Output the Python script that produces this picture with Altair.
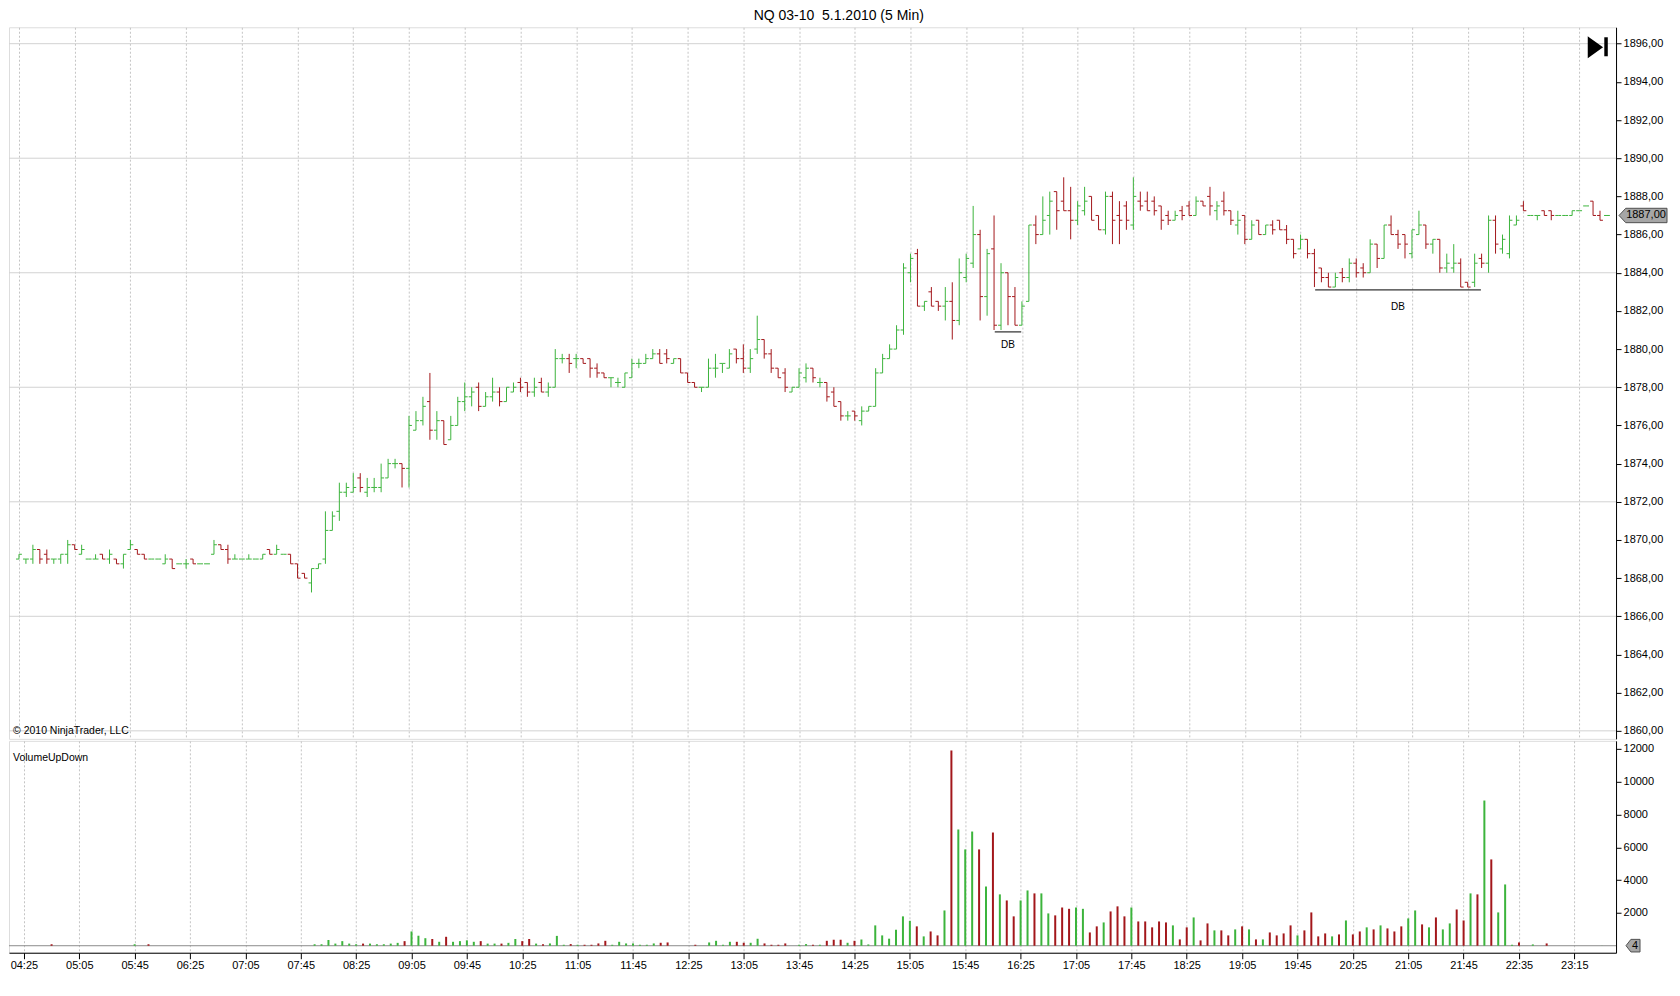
import json
import numpy as np
import pandas as pd
import altair as alt

# ---------------- data ----------------
time_labels = ["04:25", "05:05", "05:45", "06:25", "07:05", "07:45", "08:25", "09:05",
               "09:45", "10:25", "11:05", "11:45", "12:25", "13:05", "13:45", "14:25",
               "15:05", "15:45", "16:25", "17:05", "17:45", "18:25", "19:05", "19:45",
               "20:25", "21:05", "21:45", "22:35", "23:15"]

opens = [
    1869.00, 1869.00, 1869.00, 1869.50, 1869.25, 1869.00, 1869.00, 1869.25, 1869.75, 1869.25,
    1869.00, 1869.00, 1869.25, 1869.00, 1869.00, 1868.75, 1869.50, 1869.50, 1869.25, 1869.00,
    1869.00, 1868.75, 1869.00, 1868.75, 1868.75, 1869.00, 1868.75, 1868.75, 1869.25, 1869.75,
    1869.50, 1869.00, 1869.00, 1869.00, 1869.00, 1869.00, 1869.50, 1869.25, 1869.25, 1869.25,
    1868.75, 1868.25, 1867.75, 1868.50, 1869.00, 1870.50, 1871.50, 1872.50, 1872.50, 1873.25,
    1872.50, 1872.75, 1872.75, 1873.25, 1874.00, 1874.00, 1873.75, 1875.75, 1876.25, 1877.25,
    1875.75, 1876.25, 1875.25, 1876.00, 1877.25, 1877.50, 1878.00, 1877.00, 1877.50, 1877.75,
    1877.25, 1877.75, 1878.25, 1878.25, 1877.75, 1878.25, 1877.75, 1878.00, 1879.50, 1879.50,
    1879.50, 1879.50, 1879.50, 1879.00, 1878.75, 1878.50, 1878.25, 1878.00, 1878.50, 1879.25,
    1879.25, 1879.50, 1879.75, 1879.75, 1879.25, 1879.50, 1878.75, 1878.25, 1878.00, 1878.00,
    1879.00, 1879.25, 1879.00, 1880.00, 1879.50, 1879.00, 1880.00, 1880.50, 1879.75, 1879.00,
    1878.75, 1877.75, 1878.00, 1878.50, 1879.00, 1878.25, 1878.25, 1877.75, 1877.25, 1876.50,
    1876.75, 1876.25, 1876.75, 1877.00, 1878.75, 1879.50, 1880.00, 1881.00, 1884.00, 1885.00,
    1882.25, 1883.00, 1882.50, 1882.25, 1882.50, 1881.50, 1883.75, 1884.50, 1886.00, 1882.75,
    1885.25, 1881.25, 1884.00, 1882.75, 1881.25, 1882.50, 1886.50, 1886.00, 1887.00, 1888.25,
    1887.75, 1887.25, 1886.75, 1887.25, 1888.00, 1887.00, 1886.25, 1888.00, 1887.00, 1887.50,
    1886.50, 1887.75, 1887.75, 1887.75, 1887.50, 1887.00, 1886.75, 1887.25, 1887.50, 1887.00,
    1887.75, 1888.00, 1887.25, 1887.75, 1887.25, 1886.50, 1887.00, 1885.75, 1886.75, 1886.00,
    1886.50, 1886.75, 1886.25, 1885.75, 1885.25, 1885.75, 1885.00, 1884.25, 1883.75, 1883.25,
    1884.00, 1883.75, 1884.50, 1884.25, 1884.00, 1885.50, 1884.75, 1886.50, 1886.00, 1886.00,
    1885.00, 1886.00, 1886.50, 1885.50, 1885.75, 1884.25, 1884.25, 1884.50, 1883.50, 1883.50,
    1884.75, 1884.50, 1886.75, 1885.25, 1885.00, 1886.50, 1887.50, 1887.00, 1887.00, 1887.25,
    1887.25, 1887.00, 1887.00, 1887.00, 1887.25, 1887.50, 1887.75, 1887.00, 1887.00]

highs = [
    1869.25, 1869.00, 1869.75, 1869.50, 1869.50, 1869.00, 1869.25, 1870.00, 1869.75, 1869.75,
    1869.00, 1869.25, 1869.25, 1869.50, 1869.00, 1869.25, 1870.00, 1869.50, 1869.25, 1869.00,
    1869.00, 1869.25, 1869.00, 1868.75, 1869.00, 1869.00, 1868.75, 1868.75, 1870.00, 1869.75,
    1869.75, 1869.25, 1869.00, 1869.25, 1869.00, 1869.25, 1869.50, 1869.75, 1869.25, 1869.25,
    1868.75, 1868.25, 1868.50, 1868.75, 1871.50, 1871.50, 1873.00, 1873.00, 1873.50, 1873.50,
    1873.25, 1873.25, 1874.00, 1874.25, 1874.25, 1874.00, 1876.50, 1876.75, 1877.50, 1878.75,
    1876.75, 1876.25, 1876.50, 1877.50, 1878.25, 1878.00, 1878.25, 1877.75, 1878.50, 1878.00,
    1878.00, 1878.25, 1878.50, 1878.25, 1878.50, 1878.50, 1878.25, 1880.00, 1879.75, 1879.75,
    1879.75, 1879.50, 1879.50, 1879.25, 1878.75, 1878.50, 1878.50, 1878.75, 1879.50, 1879.50,
    1879.75, 1880.00, 1880.00, 1880.00, 1879.50, 1879.50, 1878.75, 1878.25, 1878.00, 1879.50,
    1879.75, 1879.25, 1880.00, 1880.00, 1880.25, 1880.00, 1881.75, 1880.50, 1880.00, 1879.00,
    1879.00, 1878.00, 1879.00, 1879.25, 1879.00, 1878.50, 1878.25, 1878.00, 1877.25, 1876.75,
    1876.75, 1877.00, 1877.00, 1879.00, 1879.75, 1880.25, 1881.25, 1884.50, 1885.00, 1885.25,
    1882.50, 1883.25, 1882.50, 1883.25, 1883.50, 1884.75, 1885.00, 1887.50, 1886.25, 1885.25,
    1887.00, 1884.50, 1884.00, 1883.25, 1882.50, 1886.50, 1887.00, 1888.00, 1888.25, 1888.25,
    1889.00, 1888.50, 1887.75, 1888.50, 1888.00, 1887.00, 1888.25, 1888.25, 1887.75, 1887.75,
    1889.00, 1888.25, 1888.25, 1888.00, 1887.50, 1887.25, 1887.25, 1887.50, 1887.75, 1888.00,
    1887.75, 1888.50, 1887.75, 1888.25, 1887.25, 1887.25, 1887.00, 1886.75, 1886.75, 1886.50,
    1886.75, 1886.75, 1886.50, 1885.75, 1886.00, 1885.75, 1885.25, 1884.25, 1884.00, 1884.00,
    1884.25, 1884.75, 1884.75, 1884.50, 1885.75, 1885.50, 1886.50, 1887.00, 1886.25, 1886.00,
    1886.25, 1887.25, 1886.50, 1885.75, 1885.75, 1885.00, 1885.50, 1884.75, 1883.50, 1885.00,
    1885.00, 1887.00, 1887.00, 1886.00, 1887.00, 1887.00, 1887.75, 1887.00, 1887.00, 1887.25,
    1887.25, 1887.00, 1887.00, 1887.25, 1887.25, 1887.50, 1887.75, 1887.25, 1887.00]

lows = [
    1869.00, 1868.75, 1868.75, 1868.75, 1868.75, 1868.75, 1868.75, 1868.75, 1869.50, 1869.25,
    1869.00, 1869.00, 1869.00, 1868.75, 1868.75, 1868.50, 1869.50, 1869.25, 1869.00, 1869.00,
    1869.00, 1868.75, 1868.50, 1868.75, 1868.50, 1868.75, 1868.75, 1868.75, 1869.25, 1869.50,
    1868.75, 1869.00, 1869.00, 1869.00, 1869.00, 1869.00, 1869.25, 1869.25, 1869.25, 1868.75,
    1868.00, 1868.00, 1867.25, 1868.50, 1868.75, 1870.50, 1871.00, 1872.25, 1872.50, 1872.50,
    1872.25, 1872.50, 1872.50, 1873.25, 1873.75, 1872.75, 1872.75, 1875.75, 1876.00, 1875.25,
    1875.25, 1875.00, 1875.25, 1876.00, 1876.75, 1877.00, 1876.75, 1877.00, 1877.25, 1877.00,
    1877.25, 1877.75, 1877.75, 1877.50, 1877.50, 1877.75, 1877.50, 1878.00, 1879.25, 1878.75,
    1879.00, 1879.25, 1878.50, 1878.50, 1878.50, 1878.00, 1878.00, 1878.00, 1878.50, 1879.00,
    1879.25, 1879.50, 1879.25, 1879.25, 1879.25, 1878.75, 1878.25, 1878.00, 1877.75, 1878.00,
    1878.50, 1878.75, 1879.00, 1879.25, 1878.75, 1878.75, 1879.75, 1879.50, 1878.75, 1878.50,
    1877.75, 1877.75, 1878.00, 1878.25, 1878.25, 1878.00, 1877.25, 1877.00, 1876.25, 1876.25,
    1876.25, 1876.00, 1876.75, 1877.00, 1878.75, 1879.50, 1880.00, 1880.75, 1883.50, 1882.25,
    1882.00, 1882.25, 1882.00, 1881.50, 1880.50, 1881.25, 1883.50, 1884.25, 1881.50, 1881.75,
    1881.00, 1881.00, 1881.25, 1881.25, 1881.25, 1882.50, 1885.50, 1886.00, 1886.00, 1886.25,
    1887.25, 1885.75, 1886.50, 1887.00, 1886.75, 1886.25, 1886.00, 1885.50, 1885.50, 1886.25,
    1886.25, 1887.25, 1887.25, 1887.00, 1886.25, 1886.50, 1886.75, 1886.75, 1887.00, 1887.00,
    1887.50, 1887.00, 1886.75, 1887.00, 1886.50, 1886.00, 1885.50, 1885.75, 1886.00, 1886.00,
    1886.00, 1886.25, 1885.50, 1884.75, 1885.25, 1884.75, 1883.25, 1883.50, 1883.25, 1883.25,
    1883.50, 1883.50, 1883.75, 1883.75, 1884.00, 1884.25, 1884.75, 1886.00, 1885.25, 1884.75,
    1884.75, 1886.00, 1885.25, 1885.00, 1884.00, 1884.00, 1884.00, 1883.25, 1883.25, 1883.25,
    1884.25, 1884.00, 1885.00, 1885.00, 1884.75, 1886.50, 1887.25, 1887.00, 1886.75, 1887.00,
    1886.75, 1887.00, 1887.00, 1887.00, 1887.25, 1887.50, 1887.00, 1886.75, 1887.00]

closes = [
    1869.25, 1869.00, 1869.50, 1869.00, 1869.00, 1869.00, 1869.25, 1869.75, 1869.50, 1869.50,
    1869.00, 1869.00, 1869.00, 1869.25, 1868.75, 1869.25, 1869.75, 1869.25, 1869.00, 1869.00,
    1869.00, 1869.00, 1868.50, 1868.75, 1868.75, 1868.75, 1868.75, 1868.75, 1869.75, 1869.50,
    1869.00, 1869.00, 1869.00, 1869.00, 1869.00, 1869.25, 1869.25, 1869.50, 1869.25, 1868.75,
    1868.00, 1868.00, 1868.50, 1868.75, 1870.50, 1871.25, 1872.50, 1872.75, 1872.75, 1872.75,
    1872.75, 1872.75, 1873.25, 1874.00, 1874.00, 1873.75, 1876.00, 1876.25, 1877.00, 1875.75,
    1876.25, 1875.00, 1876.00, 1877.25, 1877.50, 1877.75, 1877.00, 1877.50, 1877.75, 1877.25,
    1878.00, 1878.00, 1878.00, 1877.75, 1878.00, 1877.75, 1878.00, 1879.50, 1879.50, 1879.25,
    1879.50, 1879.25, 1879.00, 1878.75, 1878.50, 1878.50, 1878.25, 1878.75, 1879.25, 1879.25,
    1879.50, 1879.75, 1879.25, 1879.50, 1879.50, 1878.75, 1878.25, 1878.00, 1878.00, 1879.00,
    1879.00, 1879.25, 1879.75, 1879.50, 1879.00, 1879.50, 1880.50, 1879.75, 1879.00, 1878.50,
    1878.00, 1878.00, 1878.75, 1879.00, 1878.50, 1878.25, 1877.50, 1877.00, 1876.50, 1876.50,
    1876.50, 1876.75, 1877.00, 1878.75, 1879.50, 1880.00, 1881.00, 1884.25, 1884.75, 1882.25,
    1882.50, 1882.25, 1882.25, 1882.50, 1881.50, 1884.00, 1884.75, 1886.00, 1882.75, 1885.00,
    1881.25, 1884.00, 1882.75, 1881.25, 1882.25, 1886.50, 1886.00, 1886.75, 1887.75, 1887.25,
    1887.25, 1886.75, 1887.50, 1887.75, 1886.75, 1886.25, 1888.00, 1886.75, 1886.75, 1886.75,
    1888.00, 1887.50, 1887.25, 1887.25, 1886.75, 1886.75, 1887.00, 1887.00, 1887.00, 1887.75,
    1887.50, 1887.50, 1887.50, 1887.25, 1886.75, 1886.75, 1885.75, 1886.50, 1886.00, 1886.50,
    1886.25, 1886.25, 1885.75, 1885.00, 1885.75, 1885.00, 1884.00, 1883.75, 1883.25, 1883.75,
    1883.75, 1884.50, 1884.00, 1884.00, 1885.50, 1884.75, 1886.50, 1886.00, 1885.50, 1885.50,
    1886.25, 1886.50, 1885.50, 1885.75, 1884.25, 1884.50, 1884.50, 1883.25, 1883.25, 1884.50,
    1884.50, 1886.75, 1885.50, 1885.75, 1886.75, 1886.75, 1887.25, 1887.00, 1887.00, 1887.00,
    1887.00, 1887.00, 1887.00, 1887.25, 1887.25, 1887.50, 1887.00, 1886.75, 1887.00]

volumes = [
    0, 0, 0, 0, 90, 0, 0, 0, 0, 0,
    0, 0, 0, 0, 0, 0, 90, 0, 90, 0,
    0, 0, 0, 0, 0, 0, 0, 0, 0, 0,
    0, 0, 0, 0, 0, 0, 0, 0, 0, 0,
    0, 0, 90, 90, 350, 130, 280, 130, 90, 130,
    130, 90, 90, 130, 175, 280, 870, 610, 460, 410,
    240, 545, 240, 280, 330, 240, 280, 130, 130, 130,
    175, 410, 280, 410, 130, 90, 140, 600, 60, 100,
    60, 60, 60, 140, 300, 60, 240, 140, 140, 60,
    60, 140, 180, 200, 0, 0, 0, 60, 0, 200,
    300, 60, 240, 240, 180, 180, 425, 140, 60, 60,
    140, 0, 60, 100, 60, 60, 300, 365, 365, 180,
    300, 380, 80, 1240, 630, 430, 975, 1790, 1520, 1180,
    570, 870, 630, 2150, 11900, 7085, 5870, 6960, 5870, 3610,
    6900, 3130, 2760, 1790, 2760, 3370, 3190, 3190, 1970, 1850,
    2330, 2250, 2330, 2250, 810, 1180, 1420, 2090, 2400, 1790,
    2330, 1480, 1480, 1120, 1480, 1420, 1240, 385, 1120, 1725,
    325, 1360, 935, 935, 630, 995, 1180, 995, 385, 385,
    810, 630, 750, 1240, 630, 935, 2030, 570, 750, 570,
    690, 1540, 690, 870, 1120, 995, 1240, 1055, 870, 1180,
    1665, 2150, 1300, 1120, 1725, 995, 1360, 2210, 1540, 3190,
    3130, 8850, 5260, 2030, 3735, 60, 200, 0, 80, 0,
    140, 0, 0, 0, 0, 0, 0, 0, 4]

price_ticks = list(range(1860, 1897, 2))
grid_levels = [1860, 1866, 1872, 1878, 1884, 1890, 1896]
vol_ticks = [2000, 4000, 6000, 8000, 10000, 12000]

db_start = [140.1, 186.1]
db_end = [143.9, 209.9]
db_level = [1880.9, 1883.1]
db_label_x = [142.0, 198.0]
db_label_y = [1880.2, 1882.2]

title_text = "NQ 03-10\u00a0\u00a05.1.2010 (5 Min)"
copyright_text = "\u00a9 2010 NinjaTrader, LLC"
panel_label = "VolumeUpDown"

# ---------------- build ----------------
n = len(opens)
df = pd.DataFrame({"i": np.arange(n), "open": opens, "high": highs, "low": lows,
                   "close": closes, "volume": volumes})
df["high"] = df[["open", "high", "close"]].max(axis=1)
df["low"] = df[["open", "low", "close"]].min(axis=1)
df["dir"] = np.where(df["close"] >= df["open"], "up", "down")

GREEN = "#3cb43c"
RED = "#a3171b"
FONT = "Liberation Sans"
W = 1608
H_PRICE = 712
H_VOL = 212

xscale = alt.Scale(domain=[-1.43, 229.3], nice=False, zero=False)
pscale = alt.Scale(domain=[1859.58, 1896.86], nice=False, zero=False)
vscale = alt.Scale(domain=[-426, 12487], nice=False, zero=False)
cscale = alt.Scale(domain=["up", "down"], range=[GREEN, RED])
color_enc = alt.Color("dir:N", scale=cscale, legend=None)

tick_vals = list(range(0, 8 * len(time_labels), 8))
label_expr = json.dumps(time_labels) + "[datum.value / 8]"

# shared axis definitions (identical in every layer so they merge cleanly)
px_axis = alt.Axis(values=tick_vals, labels=False, ticks=False, domain=False,
                   grid=True, gridDash=[2, 2], gridColor="#c4c4c4", title=None)
py_axis = alt.Axis(orient="right", values=price_ticks,
                   labelExpr="replace(format(datum.value, '.2f'), '.', ',')",
                   grid=False, title=None, domainColor="black", tickColor="black",
                   tickSize=5, labelPadding=2, labelFont=FONT, labelFontSize=11,
                   labelColor="black", labelOverlap=False)
vx_axis = alt.Axis(values=tick_vals, labelExpr=label_expr, grid=True,
                   gridDash=[2, 2], gridColor="#c4c4c4", domainColor="black",
                   tickColor="black", tickSize=6, labelFont=FONT, labelFontSize=11,
                   labelColor="black", labelPadding=1, title=None,
                   labelOverlap=False, labelFlush=False)
vy_axis = alt.Axis(orient="right", values=vol_ticks, format="d", grid=False,
                   title=None, domainColor="black", tickColor="black", tickSize=5,
                   labelPadding=2, labelFont=FONT, labelFontSize=11,
                   labelColor="black", labelOverlap=False)

base = alt.Chart(df).transform_calculate(xl="datum.i - 0.42", xr="datum.i + 0.42")

# price panel
grid = alt.Chart(pd.DataFrame({"level": grid_levels})).mark_rule(
    color="#d2d2d2", strokeWidth=1).encode(
    y=alt.Y("level:Q", scale=pscale, axis=py_axis))

hl = base.mark_rule(strokeWidth=1).encode(
    x=alt.X("i:Q", scale=xscale, axis=px_axis),
    y=alt.Y("low:Q", scale=pscale, axis=py_axis),
    y2="high:Q",
    color=color_enc,
)
op = base.mark_rule(strokeWidth=1).encode(
    x=alt.X("xl:Q", scale=xscale, axis=px_axis), x2="i:Q",
    y=alt.Y("open:Q", scale=pscale, axis=py_axis), color=color_enc)
cl = base.mark_rule(strokeWidth=1).encode(
    x=alt.X("i:Q", scale=xscale, axis=px_axis), x2="xr:Q",
    y=alt.Y("close:Q", scale=pscale, axis=py_axis), color=color_enc)

db_df = pd.DataFrame({"x1": db_start, "x2": db_end, "y": db_level})
db_lines = alt.Chart(db_df).mark_rule(color="black", strokeWidth=1).encode(
    x=alt.X("x1:Q", scale=xscale, axis=px_axis), x2="x2:Q",
    y=alt.Y("y:Q", scale=pscale, axis=py_axis))
db_txt_df = pd.DataFrame({"x": db_label_x, "y": db_label_y, "t": ["DB", "DB"]})
db_text = alt.Chart(db_txt_df).mark_text(font=FONT, fontSize=10, color="black").encode(
    x=alt.X("x:Q", scale=xscale, axis=px_axis),
    y=alt.Y("y:Q", scale=pscale, axis=py_axis), text="t:N")

copyright_layer = alt.Chart(pd.DataFrame({"t": [copyright_text]})).mark_text(
    font=FONT, fontSize=10.5, color="black", align="left", baseline="middle").encode(
    text="t:N", x=alt.value(4), y=alt.value(H_PRICE - 8))

last_df = pd.DataFrame({"p": [closes[-1]],
                        "t": [f"{closes[-1]:.2f}".replace(".", ",")]})
marker_path = "M -1 0 L -0.72 -0.3 L 1 -0.3 L 1 0.3 L -0.72 0.3 Z"
price_marker = alt.Chart(last_df).mark_point(
    shape=marker_path, size=2304, filled=True, fill="#a6a6a6", stroke="#505050",
    strokeWidth=1, opacity=1).encode(
    x=alt.value(W + 27), y=alt.Y("p:Q", scale=pscale, axis=py_axis))
price_marker_text = alt.Chart(last_df).mark_text(
    font=FONT, fontSize=11, color="black", align="center", baseline="middle").encode(
    x=alt.value(W + 30), y=alt.Y("p:Q", scale=pscale, axis=py_axis), text="t:N")

icon_df = pd.DataFrame({"k": [0]})
icon_tri = alt.Chart(icon_df).mark_point(
    shape="M -0.7 -1 L 0.7 0 L -0.7 1 Z", size=324, filled=True, fill="black",
    stroke="black", opacity=1).encode(x=alt.value(W - 21), y=alt.value(20))
icon_bar = alt.Chart(icon_df).mark_rule(color="black", strokeWidth=3.5).encode(
    x=alt.value(W - 10), y=alt.value(10), y2=alt.value(29))

price = alt.layer(grid, hl, op, cl, db_lines, db_text, copyright_layer,
                  price_marker, price_marker_text, icon_tri, icon_bar).properties(
    width=W, height=H_PRICE)

# volume panel
zero_line = alt.Chart(pd.DataFrame({"z": [0]})).mark_rule(
    color="#8c8c8c", strokeWidth=1).encode(
    y=alt.Y("z:Q", scale=vscale, axis=vy_axis))

vbars = base.mark_bar(size=2).encode(
    x=alt.X("i:Q", scale=xscale, axis=vx_axis),
    y=alt.Y("volume:Q", scale=vscale, axis=vy_axis),
    y2=alt.datum(0),
    color=color_enc,
)

vol_label = alt.Chart(pd.DataFrame({"t": [panel_label]})).mark_text(
    font=FONT, fontSize=10.5, color="black", align="left", baseline="middle").encode(
    text="t:N", x=alt.value(4), y=alt.value(17))

last_vol_df = pd.DataFrame({"v": [volumes[-1]], "t": [str(volumes[-1])]})
vol_marker = alt.Chart(last_vol_df).mark_point(
    shape="M -1 0 L -0.3 -0.9 L 1 -0.9 L 1 0.9 L -0.3 0.9 Z", size=196, filled=True,
    fill="#a6a6a6", stroke="#505050", strokeWidth=1, opacity=1).encode(
    x=alt.value(W + 17), y=alt.Y("v:Q", scale=vscale, axis=vy_axis))
vol_marker_text = alt.Chart(last_vol_df).mark_text(
    font=FONT, fontSize=11, color="black", align="center", baseline="middle").encode(
    x=alt.value(W + 19), y=alt.Y("v:Q", scale=vscale, axis=vy_axis), text="t:N")

vol = alt.layer(zero_line, vbars, vol_label, vol_marker, vol_marker_text).properties(
    width=W, height=H_VOL)

chart = alt.vconcat(price, vol, spacing=0).properties(
    title=alt.TitleParams(title_text, fontSize=14, fontWeight="normal", font=FONT,
                          color="black", anchor="middle", offset=4),
    padding={"left": 0, "top": 0, "right": 2, "bottom": 4},
).configure_view(stroke="black", strokeWidth=1).configure(font=FONT)

chart.save("out.html", embed_options={"renderer": "svg", "actions": False})
